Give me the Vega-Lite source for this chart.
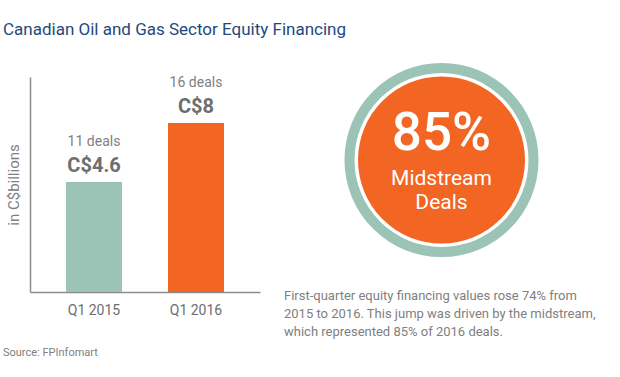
{
  "$schema": "https://vega.github.io/schema/vega-lite/v6.json",
  "padding": {"left": 3, "top": 21, "right": 10, "bottom": 10},
  "config": {"font": "Roboto", "view": {"stroke": null}},
  "title": {"text": "Canadian Oil and Gas Sector Equity Financing", "anchor": "start", "frame": "group", "dx": -27, "offset": 24, "fontSize": 17, "fontWeight": "normal", "color": "#1f497d"},
  "bounds": "flush",
  "spacing": 24,
  "hconcat": [
    {
      "width": 230,
      "height": 215,
      "data": {"values": [
        {"quarter": "Q1 2015", "value": 4.6, "deals": 11},
        {"quarter": "Q1 2016", "value": 8, "deals": 16}
      ]},
      "title": {"text": "Source: FPInfomart", "orient": "bottom", "anchor": "start", "frame": "group", "dx": -27, "offset": 30, "fontSize": 11, "fontWeight": "normal", "color": "#808080"},
      "transform": [
        {"calculate": "'C$' + datum.value", "as": "amount"},
        {"calculate": "datum.deals + ' deals'", "as": "deal_label"}
      ],
      "encoding": {
        "x": {"field": "quarter", "type": "nominal", "scale": {"paddingInner": 0.451, "paddingOuter": 0.353},
          "axis": {"title": null, "ticks": false, "labelAngle": 0, "labelPadding": 11, "labelFontSize": 14, "labelColor": "#6d6e71", "domainColor": "#8c8c8c", "domainWidth": 1.5, "grid": false}},
        "y": {"field": "value", "type": "quantitative", "scale": {"domain": [-1.74, 10.65], "nice": false},
          "axis": {"title": "in C$billions", "labels": false, "ticks": false, "grid": false, "domainColor": "#8c8c8c", "domainWidth": 1.5, "titleFontSize": 15, "titleFontWeight": "normal", "titleColor": "#808080", "titlePadding": 9}}
      },
      "layer": [
        {"mark": {"type": "bar"}, "encoding": {"y2": {"datum": -1.74},
          "color": {"field": "quarter", "type": "nominal", "scale": {"domain": ["Q1 2015", "Q1 2016"], "range": ["#9bc4b7", "#f26522"]}, "legend": null}}},
        {"mark": {"type": "text", "dy": -40, "fontSize": 14, "color": "#808080"}, "encoding": {"text": {"field": "deal_label"}}},
        {"mark": {"type": "text", "dy": -16, "fontSize": 20, "fontWeight": "bold", "color": "#6d6e71"}, "encoding": {"text": {"field": "amount"}}}
      ]
    },
    {
      "width": 315,
      "height": 166,
      "data": {"values": [{"segment": "Midstream Deals", "share": 0.85, "line1": "Midstream", "line2": "Deals"}]},
      "title": {"text": ["First-quarter equity financing values rose 74% from", "2015 to 2016. This jump was driven by the midstream,", "which represented 85% of 2016 deals."], "orient": "bottom", "anchor": "start", "frame": "group", "offset": 33, "fontSize": 13, "fontWeight": "normal", "color": "#808080", "lineHeight": 18},
      "layer": [
        {"mark": {"type": "arc", "innerRadius": 87, "outerRadius": 97, "color": "#9bc4b7"}, "encoding": {"theta": {"field": "share", "type": "quantitative"}}},
        {"mark": {"type": "arc", "outerRadius": 83.5, "color": "#f26522"}, "encoding": {"theta": {"field": "share", "type": "quantitative"}}},
        {"mark": {"type": "text", "dy": -26, "fontSize": 53, "fontWeight": 500, "color": "white"}, "encoding": {"text": {"field": "share", "format": ".0%"}}},
        {"mark": {"type": "text", "dy": 19, "fontSize": 21, "color": "white"}, "encoding": {"text": {"field": "line1"}}},
        {"mark": {"type": "text", "dy": 43, "fontSize": 21, "color": "white"}, "encoding": {"text": {"field": "line2"}}}
      ]
    }
  ]
}
